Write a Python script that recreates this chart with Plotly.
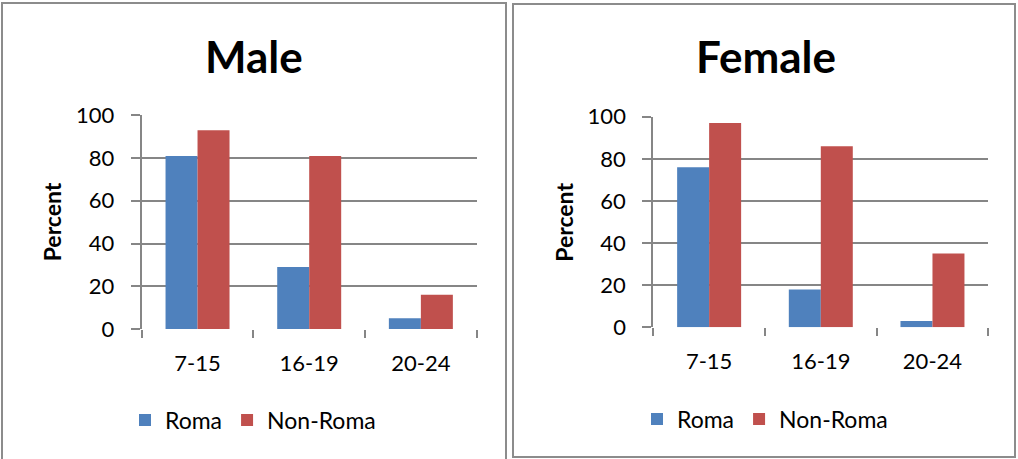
import plotly.graph_objects as go

# Age groups and school-attendance percentages
age_groups = ["7-15", "16-19", "20-24"]
male_roma = [81, 29, 5]
male_non_roma = [93, 81, 16]
female_roma = [76, 18, 3]
female_non_roma = [97, 86, 35]
y_ticks = [0, 20, 40, 60, 80, 100]

BLUE = "#4F81BD"
RED = "#C0504D"
GRID = "#868686"
FONT = "Lato"

W, H = 1018, 459


def px_x(v):
    return v / W


def px_y(v):
    return (H - v) / H


fig = go.Figure()

panels = [
    dict(title="Male", roma=male_roma, non=male_non_roma, xa="x", ya="y",
         legend="legend", xdom=(141.7, 476.7), ydom=(329.0, 115.3),
         box=(2, 3, 506, 462), title_x=254, legend_x=253),
    dict(title="Female", roma=female_roma, non=female_non_roma, xa="x2", ya="y2",
         legend="legend2", xdom=(653.3, 988.3), ydom=(327.3, 116.7),
         box=(513, 4, 1015, 457), title_x=766, legend_x=765),
]

for i, p in enumerate(panels):
    fig.add_trace(go.Bar(x=age_groups, y=p["roma"], name="Roma",
                         marker=dict(color=BLUE, line=dict(width=0)),
                         xaxis=p["xa"], yaxis=p["ya"], legend=p["legend"]))
    fig.add_trace(go.Bar(x=age_groups, y=p["non"], name="Non-Roma",
                         marker=dict(color=RED, line=dict(width=0)),
                         xaxis=p["xa"], yaxis=p["ya"], legend=p["legend"]))

axis_common_x = dict(
    type="category", tickson="boundaries", ticks="outside", ticklen=8,
    tickwidth=2, tickcolor=GRID, showline=False, showgrid=False,
    tickfont=dict(family=FONT, size=22, color="#000000"), fixedrange=True,
    automargin=False, ticklabelstandoff=19,
)
axis_common_y = dict(
    range=[0, 100], tickvals=y_ticks, ticks="outside", ticklen=9,
    tickwidth=2, tickcolor=GRID, showline=True, linecolor=GRID,
    linewidth=2, showgrid=True, gridcolor=GRID, gridwidth=2,
    zeroline=False, tickfont=dict(family=FONT, size=22, color="#000000"),
    fixedrange=True, automargin=False, ticklabelstandoff=12,
)

p0, p1 = panels
fig.update_layout(
    xaxis=dict(domain=[px_x(p0["xdom"][0]), px_x(p0["xdom"][1])], anchor="y",
               **axis_common_x),
    yaxis=dict(domain=[px_y(p0["ydom"][0]), px_y(p0["ydom"][1])], anchor="x",
               **axis_common_y),
    xaxis2=dict(domain=[px_x(p1["xdom"][0]), px_x(p1["xdom"][1])], anchor="y2",
                **axis_common_x),
    yaxis2=dict(domain=[px_y(p1["ydom"][0]), px_y(p1["ydom"][1])], anchor="x2",
                **axis_common_y),
)

legend_style = dict(orientation="h", xanchor="center", yanchor="middle",
                    font=dict(family=FONT, size=23, color="#000000"),
                    bgcolor="rgba(0,0,0,0)", itemwidth=30, tracegroupgap=0)
fig.update_layout(
    legend=dict(x=px_x(p0["legend_x"]), y=px_y(420), **legend_style),
    legend2=dict(x=px_x(p1["legend_x"]), y=px_y(419), **legend_style),
)

shapes = []
annotations = []
for p in panels:
    x0, y0, x1, y1 = p["box"]
    shapes.append(dict(type="rect", xref="paper", yref="paper",
                       x0=px_x(x0), x1=px_x(x1), y0=px_y(y1), y1=px_y(y0),
                       line=dict(color="#8C8C8C", width=2),
                       fillcolor="rgba(0,0,0,0)"))
    annotations.append(dict(text="<b>" + p["title"] + "</b>", xref="paper",
                            yref="paper", x=px_x(p["title_x"]), y=px_y(56),
                            xanchor="center", yanchor="middle", showarrow=False,
                            font=dict(family=FONT, size=44, color="#000000")))
    ymid = (p["ydom"][0] + p["ydom"][1]) / 2
    annotations.append(dict(text="<b>Percent</b>", xref="paper", yref="paper",
                            x=px_x(p["xdom"][0] - 89.5), y=px_y(ymid),
                            xanchor="center", yanchor="middle", textangle=-90,
                            showarrow=False,
                            font=dict(family=FONT, size=23, color="#000000")))

fig.update_layout(
    width=W, height=H,
    margin=dict(l=0, r=0, t=0, b=0, pad=0, autoexpand=False),
    paper_bgcolor="#FFFFFF", plot_bgcolor="#FFFFFF",
    barmode="group", bargap=0.427, bargroupgap=0,
    showlegend=True, shapes=shapes, annotations=annotations,
)

fig.write_html("out.html", config={"displayModeBar": False})
